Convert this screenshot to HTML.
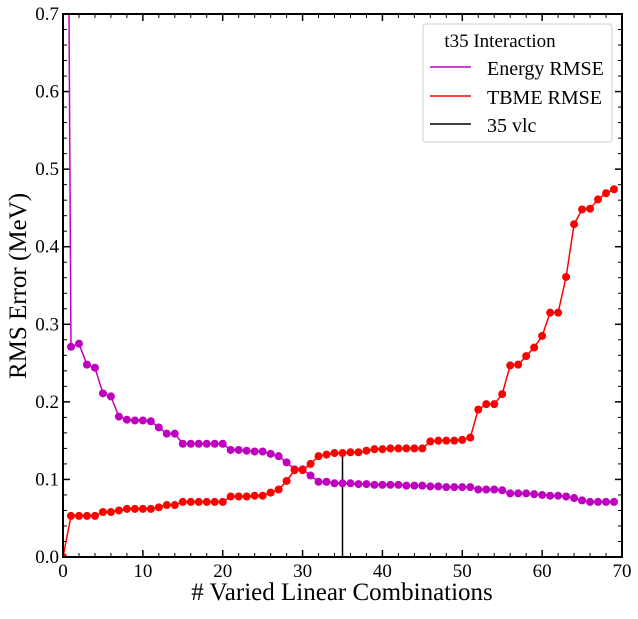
<!DOCTYPE html>
<html><head><meta charset="utf-8"><style>
body{margin:0;background:#fff;}
svg text{font-family:"Liberation Serif",serif;fill:#000;}
</style></head><body>
<svg id="chart" width="638" height="614" viewBox="0 0 638 614" xmlns="http://www.w3.org/2000/svg">
<defs><clipPath id="clip"><rect x="63" y="14" width="559" height="543"/></clipPath></defs>
<g id="axes"></g>
<g id="series" clip-path="url(#clip)"></g>
<rect x="63" y="14" width="559" height="543" fill="none" stroke="#000" stroke-width="2"/>
<text x="342" y="600" font-size="25" text-anchor="middle"># Varied Linear Combinations</text>
<text x="26" y="286" font-size="25" text-anchor="middle" transform="rotate(-90 26 286)">RMS Error (MeV)</text>
<g>
<rect x="423" y="24" width="189" height="118" rx="3" fill="#fff" fill-opacity="0.85" stroke="#ccc"/>
<text x="500" y="47" font-size="19" text-anchor="middle">t35 Interaction</text>
<line x1="430" y1="67" x2="471" y2="67" stroke="#c400c4" stroke-width="1.5"/>
<text x="487" y="75" font-size="20">Energy RMSE</text>
<line x1="430" y1="96" x2="471" y2="96" stroke="#ff0000" stroke-width="1.5"/>
<text x="487" y="104" font-size="20">TBME RMSE</text>
<line x1="430" y1="124" x2="471" y2="124" stroke="#000" stroke-width="1.5"/>
<text x="487" y="132" font-size="20">35 vlc</text>
</g>
</svg>
<script>
const energyRmse=[2.0,0.271,0.275,0.248,0.244,0.211,0.207,0.181,0.177,0.176,0.176,0.175,0.167,0.159,0.159,0.146,0.146,0.146,0.146,0.146,0.146,0.138,0.138,0.137,0.136,0.136,0.133,0.130,0.122,0.113,0.113,0.105,0.097,0.097,0.095,0.095,0.095,0.094,0.094,0.093,0.093,0.093,0.093,0.092,0.092,0.092,0.091,0.091,0.090,0.090,0.090,0.090,0.087,0.087,0.087,0.086,0.082,0.082,0.082,0.081,0.080,0.079,0.079,0.078,0.076,0.073,0.071,0.071,0.071,0.071];
const tbmeRmse=[0.0,0.053,0.053,0.053,0.053,0.058,0.058,0.060,0.062,0.062,0.062,0.062,0.064,0.067,0.067,0.071,0.071,0.071,0.071,0.071,0.071,0.078,0.078,0.078,0.079,0.079,0.083,0.087,0.098,0.112,0.112,0.120,0.130,0.132,0.134,0.134,0.135,0.135,0.137,0.139,0.139,0.140,0.140,0.140,0.140,0.140,0.149,0.150,0.150,0.150,0.151,0.154,0.190,0.197,0.197,0.210,0.247,0.248,0.259,0.270,0.285,0.315,0.315,0.361,0.429,0.448,0.449,0.461,0.469,0.474];
const vlcX=35;
const xTicks=[0,10,20,30,40,50,60,70];
const yTicks=[0.0,0.1,0.2,0.3,0.4,0.5,0.6,0.7];
const NS="http://www.w3.org/2000/svg";
const X=v=>63+v*(559/70), Y=v=>557-v*(543/0.7);
function mk(t,a,p){const e=document.createElementNS(NS,t);for(const k in a)e.setAttribute(k,a[k]);p.appendChild(e);return e;}
const ax=document.getElementById('axes'), se=document.getElementById('series');
for(let v=0;v<=70;v+=2){const maj=v%10===0,l=maj?7:4;
 let t=mk('line',{x1:X(v),x2:X(v),y1:557,y2:557-l,stroke:'#000','stroke-width':maj?1.5:1},ax);
 
 t=mk('line',{x1:X(v),x2:X(v),y1:14,y2:14+l,stroke:'#000','stroke-width':maj?1.5:1},ax);
 }
for(let i=0;i<=35;i++){const v=i*0.02,maj=i%5===0,l=maj?7:4;
 let t=mk('line',{x1:63,x2:63+l,y1:Y(v),y2:Y(v),stroke:'#000','stroke-width':maj?1.5:1},ax);
 
 t=mk('line',{x1:622,x2:622-l,y1:Y(v),y2:Y(v),stroke:'#000','stroke-width':maj?1.5:1},ax);
 }
xTicks.forEach(v=>{const t=mk('text',{x:X(v),y:577,'font-size':19,'text-anchor':'middle'},ax);t.textContent=v;
 });
yTicks.forEach(v=>{const t=mk('text',{x:59,y:Y(v)+6,'font-size':19,'text-anchor':'end'},ax);t.textContent=v.toFixed(1);
 });
function series(d,c,n){
 const p=mk('polyline',{points:d.map((v,i)=>X(i)+','+Y(v)).join(' '),fill:'none',stroke:c,'stroke-width':1.5},se);
 
 d.forEach((v,i)=>{const m=mk('circle',{cx:X(i),cy:Y(v),r:4,fill:c},se);
  });}
const vl=mk('line',{x1:X(vlcX),x2:X(vlcX),y1:557,y2:Y(tbmeRmse[vlcX]),stroke:'#000','stroke-width':1.5},se);

series(energyRmse,'#c000c0','energy-rmse');
series(tbmeRmse,'#ff0000','tbme-rmse');
</script>
</body></html>
